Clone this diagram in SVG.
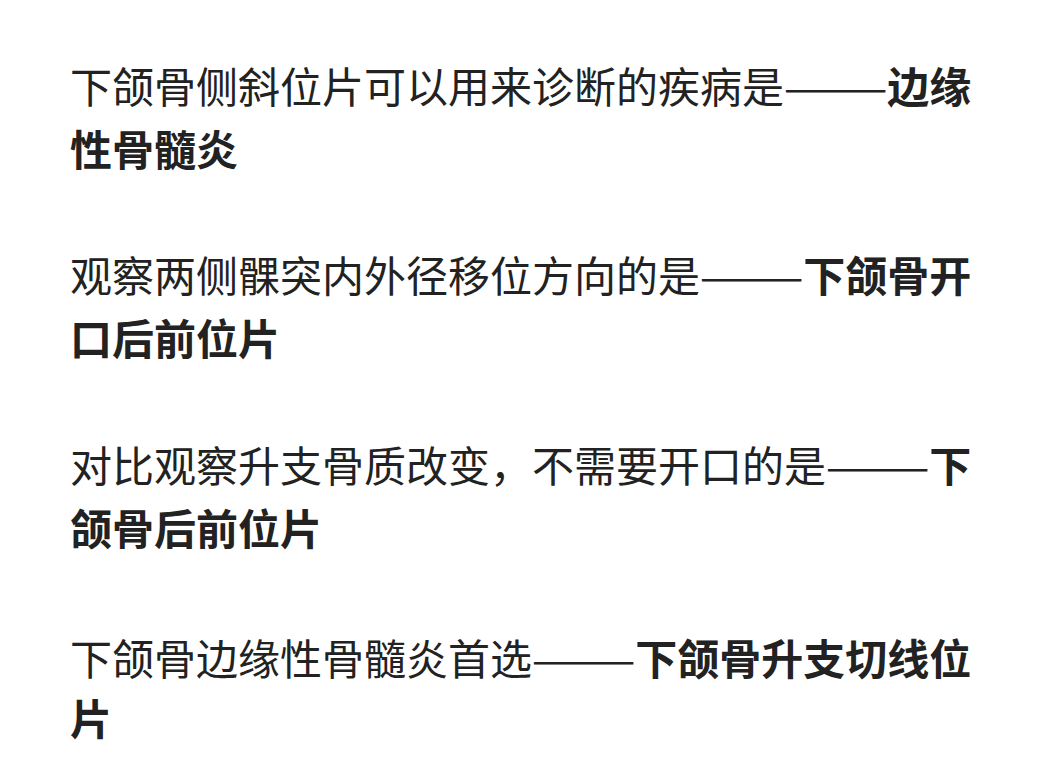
<svg xmlns="http://www.w3.org/2000/svg" width="1044" height="784" viewBox="0 0 1044 784">
<style>
text{font-family:"Noto Sans CJK SC","Noto Sans",sans-serif;font-size:42px;fill:#222}
.b{font-weight:bold}
</style>
<rect width="1044" height="784" fill="#fff"/>
<g id="q1">
<text x="70" y="103">下颌骨侧斜位片可以用来诊断的疾病是———<tspan class="b">边缘</tspan></text>
<text x="70" y="166" class="b">性骨髓炎</text>
</g>
<g id="q2">
<text x="70" y="292">观察两侧髁突内外径移位方向的是———<tspan class="b">下颌骨开</tspan></text>
<text x="70" y="355" class="b">口后前位片</text>
</g>
<g id="q3">
<text x="70" y="482">对比观察升支骨质改变，不需要开口的是———<tspan class="b">下</tspan></text>
<text x="70" y="545" class="b">颌骨后前位片</text>
</g>
<g id="q4">
<text x="70" y="675">下颌骨边缘性骨髓炎首选———<tspan class="b">下颌骨升支切线位</tspan></text>
<text x="70" y="735" class="b">片</text>
</g>
</svg>
